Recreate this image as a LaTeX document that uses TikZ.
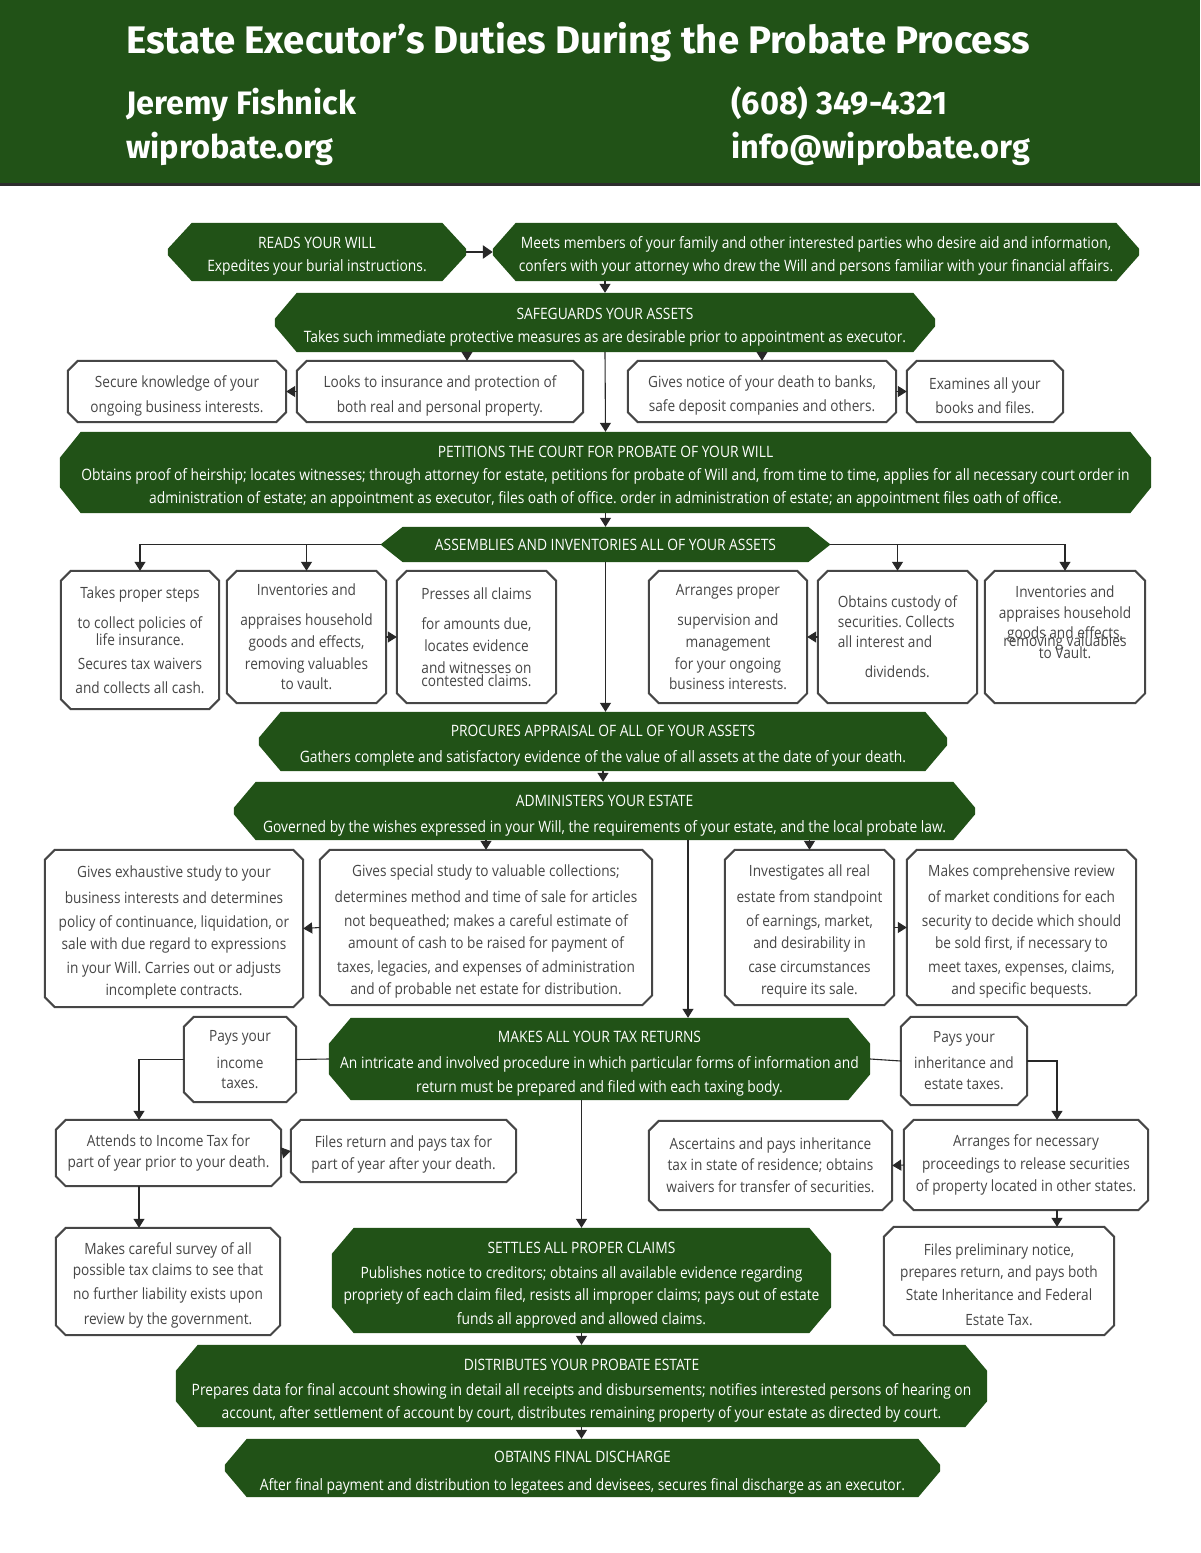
\documentclass[tikz,border=0pt]{standalone}
\usepackage{fontspec}
\setmainfont{Open Sans}[FakeStretch=0.88]
\newfontfamily\hdfont{Fira Sans}
\usetikzlibrary{arrows.meta}
\pgfdeclarelayer{background}
\pgfdeclarelayer{canvas}
\pgfsetlayers{canvas,background,main}
\definecolor{gr}{RGB}{33,82,23}
\definecolor{bd}{RGB}{70,70,70}
\definecolor{tx}{RGB}{70,70,70}
\definecolor{ln}{RGB}{40,40,40}
\definecolor{hdline}{RGB}{45,45,45}
\frenchspacing
\tikzset{
 gbox/.style={rectangle, inner sep=0pt, text=white, align=center, font=\fontsize{15.7}{23}\selectfont},
 wbox/.style={rectangle, inner sep=0pt, text=tx, align=center, font=\fontsize{15.5}{23}\selectfont},
 conn/.style={draw=ln, line width=1.1pt},
 arr/.style={conn, -{Triangle[length=9pt,width=11pt]}},
 hd/.style={text=white, anchor=base west, inner sep=0pt},
}
\newcommand\dn{\mbox{}\\[-3pt]}
\newcommand\bx[7]{\node[#1, minimum width={(#4-#2)*1pt}, minimum height={(#5-#3)*1pt}] (#6) at ({(#2+#4)/2},{(#3+#5)/2}) {#7};}
\newcommand\gshape[3]{\fill[gr] ([xshift=#2]#1.north west) -- ([xshift=-#2]#1.north east) -- ([yshift=-#3]#1.north east) -- ([yshift=#3]#1.south east) -- ([xshift=-#2]#1.south east) -- ([xshift=#2]#1.south west) -- ([yshift=#3]#1.south west) -- ([yshift=-#3]#1.north west) -- cycle;}
\newcommand\wshape[1]{\draw[draw=bd, line width=2pt, fill=white] ([xshift=10pt]#1.north west) -- ([xshift=-10pt]#1.north east) -- ([yshift=-10pt]#1.north east) -- ([yshift=10pt]#1.south east) -- ([xshift=-10pt]#1.south east) -- ([xshift=10pt]#1.south west) -- ([yshift=10pt]#1.south west) -- ([yshift=-10pt]#1.north west) -- cycle;}
\begin{document}
\begin{tikzpicture}[x=1pt,y=-1pt]
\begin{pgfonlayer}{canvas}
\fill[white] (0,0) rectangle (1200,1553);
\end{pgfonlayer}
\useasboundingbox (0,0) rectangle (1200,1553);
% header
\fill[gr] (0,0) rectangle (1200,184);
\draw[line width=2.5pt, hdline] (0,184.5) -- (1200,184.5);
\node[hd, font={\hdfont\bfseries\fontsize{38.4}{42}\selectfont}] (title) at (126,53) {Estate Executor’s Duties During the Probate Process};
\node[hd, font={\hdfont\bfseries\fontsize{32.5}{36}\selectfont}] (name) at (126,114) {Jeremy Fishnick};
\node[hd, font={\hdfont\bfseries\fontsize{32.5}{36}\selectfont}] (web) at (126,158) {wiprobate.org};
\node[hd, font={\hdfont\bfseries\fontsize{32.5}{36}\selectfont}] (phone) at (731,114) {(608) 349-4321};
\node[hd, font={\hdfont\bfseries\fontsize{32.5}{36}\selectfont}] (mail) at (731,158) {info@wiprobate.org};
% boxes
\bx{gbox}{168}{223}{466}{281}{reads}{\dn READS YOUR WILL\\Expedites your burial instructions.}
\bx{gbox}{493}{223}{1139}{281}{meets}{\dn Meets members of your family and other interested parties who desire aid and information,\\confers with your attorney who drew the Will and persons familiar with your financial affairs.}
\bx{gbox}{275}{293}{935}{352}{safe}{\dn SAFEGUARDS YOUR ASSETS\\Takes such immediate protective measures as are desirable prior to appointment as executor.}
\bx{wbox}{68}{361}{286}{422}{secure}{\dn Secure knowledge of your\\[2pt]ongoing business interests.}
\bx{wbox}{297}{361}{583}{422}{looks}{\dn Looks to insurance and protection of\\[2pt]both real and personal property.}
\bx{wbox}{628}{361}{896}{422}{notice}{\dn Gives notice of your death to banks,\\[1pt]safe deposit companies and others.}
\bx{wbox}{907}{361}{1063}{422}{exam}{\dn Examines all your\\[1pt]books and files.}
\bx{gbox}{60}{432}{1151}{513}{petit}{\dn PETITIONS THE COURT FOR PROBATE OF YOUR WILL\\Obtains proof of heirship; locates witnesses; through attorney for estate, petitions for probate of Will and, from time to time, applies for all necessary court order in\\administration of estate; an appointment as executor, files oath of office. order in administration of estate; an appointment files oath of office.}
\bx{gbox}{381}{527}{830}{562}{assem}{ASSEMBLIES AND INVENTORIES ALL OF YOUR ASSETS}
\bx{wbox}{61}{571}{219}{709}{takes}{Takes proper steps\\[7pt]to collect policies of\\[-6pt]life insurance.\\[1pt]Secures tax waivers\\[1pt]and collects all cash.}
\bx{wbox}{227}{571}{386}{703}{inv1}{Inventories and\\[7pt]appraises household\\[-1pt]goods and effects,\\[-1pt]removing valuables\\[-3pt]to vault.}
\bx{wbox}{397}{571}{556}{703}{press}{Presses all claims\\[7pt]for amounts due,\\[-1pt]locates evidence\\[-1pt]and witnesses on\\[-10pt]contested claims.}
\bx{wbox}{649}{571}{807}{703}{arrs}{Arranges proper\\[7pt]supervision and\\[-1pt]management\\[-1pt]for your ongoing\\[-3pt]business interests.}
\bx{wbox,align=left}{818}{571}{977}{703}{obt}{Obtains custody of\\[-3pt]securities. Collects\\[-3pt]all interest and\\[7pt]\hspace*{27pt}dividends.}
\bx{wbox}{985}{571}{1145}{703}{inv2}{Inventories and\\[-2pt]appraises household\\[-3pt]goods and effects,\\[-15pt]removing valuables\\[-11pt]to Vault.\\[7pt]\mbox{}}
\bx{gbox}{259}{712}{947}{771}{procures}{\dn PROCURES APPRAISAL OF ALL OF YOUR ASSETS\\[3pt]Gathers complete and satisfactory evidence of the value of all assets at the date of your death.}
\bx{gbox}{234}{782}{975}{840}{admin}{\dn ADMINISTERS YOUR ESTATE\\[3pt]Governed by the wishes expressed in your Will, the requirements of your estate, and the local probate law.}
\bx{wbox}{45}{850}{303}{1007}{exh}{\dn Gives exhaustive study to your\\[3pt]business interests and determines\\[1pt]policy of continuance, liquidation, or\\[-1pt]sale with due regard to expressions\\[1pt]in your Will. Carries out or adjusts\\[-1pt]incomplete contracts.}
\bx{wbox}{320}{850}{652}{1005}{special}{\dn Gives special study to valuable collections;\\[3pt]determines method and time of sale for articles\\[1pt]not bequeathed; makes a careful estimate of\\[-1pt]amount of cash to be raised for payment of\\[1pt]taxes, legacies, and expenses of administration\\[-1pt]and of probable net estate for distribution.}
\bx{wbox}{725}{850}{894}{1005}{invest}{\dn Investigates all real\\[3pt]estate from standpoint\\[1pt]of earnings, market,\\[-1pt]and desirability in\\[1pt]case circumstances\\[-1pt]require its sale.}
\bx{wbox}{907}{850}{1136}{1005}{makescomp}{\dn Makes comprehensive review\\[3pt]of market conditions for each\\[1pt]security to decide which should\\[-1pt]be sold first, if necessary to\\[1pt]meet taxes, expenses, claims,\\[-1pt]and specific bequests.}
\bx{gbox}{329}{1018}{870}{1100}{tax}{\dn MAKES ALL YOUR TAX RETURNS\\[3pt]An intricate and involved procedure in which particular forms of information and\\[1pt]return must be prepared and filed with each taxing body.}
\bx{wbox}{184}{1017}{296}{1102}{payinc}{Pays your\\[4pt]income\\[-3pt]taxes.}
\bx{wbox}{901}{1017}{1027}{1105}{payinh}{Pays your\\[3pt]inheritance and\\[-2pt]estate taxes.}
\bx{wbox}{56}{1120}{281}{1186}{attends}{Attends to Income Tax for\\[-2pt]part of year prior to your death.}
\bx{wbox}{291}{1120}{516}{1182}{filesret}{\mbox{}\\[-4pt]Files return and pays tax for\\[-1pt]part of year after your death.}
\bx{wbox}{649}{1121}{892}{1210}{ascert}{Ascertains and pays inheritance\\[-2pt]tax in state of residence; obtains\\[-1pt]waivers for transfer of securities.}
\bx{wbox}{904}{1120}{1148}{1210}{arrnec}{Arranges for necessary\\[0pt]proceedings to release securities\\[-1pt]of property located in other states.}
\bx{wbox}{56}{1228}{280}{1335}{careful}{\dn Makes careful survey of all\\[-2pt]possible tax claims to see that\\[1pt]no further liability exists upon\\[2pt]review by the government.}
\bx{gbox}{332}{1228}{831}{1333}{settles}{\dn SETTLES ALL PROPER CLAIMS\\[2pt]Publishes notice to creditors; obtains all available evidence regarding\\[-1pt]propriety of each claim filed, resists all improper claims; pays out of estate\\[1pt]funds all approved and allowed claims.}
\bx{wbox}{884}{1227}{1114}{1335}{prelim}{\dn Files preliminary notice,\\[-1pt]prepares return, and pays both\\[0pt]State Inheritance and Federal\\[2pt]Estate Tax.}
\bx{gbox}{176}{1345}{987}{1427}{dist}{\dn DISTRIBUTES YOUR PROBATE ESTATE\\[2pt]Prepares data for final account showing in detail all receipts and disbursements; notifies interested persons of hearing on\\account, after settlement of account by court, distributes remaining property of your estate as directed by court.}
\bx{gbox}{225}{1439}{940}{1497}{final}{\dn OBTAINS FINAL DISCHARGE\\[5pt]After final payment and distribution to legatees and devisees, secures final discharge as an executor.}
% shapes behind
\begin{pgfonlayer}{background}
\foreach \n/\dx/\dy in {reads/24/26, meets/23/26, safe/22/26, petit/21/26, assem/22/17.5, procures/22/26, admin/22/26, tax/22/26, settles/22/26, dist/22/26, final/22/26} {\gshape{\n}{\dx pt}{\dy pt}}
\foreach \n in {secure, looks, notice, exam, takes, inv1, press, arrs, obt, inv2, exh, special, invest, makescomp, payinc, payinh, attends, filesret, ascert, arrnec, careful, prelim} {\wshape{\n}}
\end{pgfonlayer}
% helper coordinates
\coordinate (cA) at (467,0);
\coordinate (cB) at (688,0);
\coordinate (cC) at (139,0);
\coordinate (cD) at (1057,0);
% connectors
\draw[conn, line width=2.6pt, -{Triangle[length=10pt,width=13pt]}] (reads.east) -- (meets.west);
\draw[arr] (meets.south -| safe.north) -- (safe.north);
\draw[arr] (safe.south -| cA) -- (looks.north -| cA);
\draw[arr] (safe.south -| notice.north) -- (notice.north);
\draw[arr] (safe.south) -- (petit.north);
\draw[arr] (looks.west) -- (secure.east);
\draw[arr] (notice.east) -- (exam.west);
\draw[arr] (petit.south) -- (assem.north);
\draw[arr] (assem.west) -| (takes.north);
\draw[arr] (assem.west) -| (inv1.north);
\draw[arr] (assem.east) -| (obt.north);
\draw[arr] (assem.east) -| (inv2.north);
\draw[arr] (inv1.east) -- (press.west);
\draw[arr] (obt.west) -- (arrs.east);
\draw[arr] (assem.south) -- (assem.south |- procures.north);
\draw[arr] (procures.south) -- (procures.south |- admin.north);
\draw[arr] (admin.south -| special.north) -- (special.north);
\draw[arr] (admin.south -| invest.north) -- (invest.north);
\draw[arr] (admin.south -| cB) -- (tax.north -| cB);
\draw[arr] (special.west) -- (exh.east);
\draw[arr] (invest.east) -- (makescomp.west);
\draw[conn] (payinc.east) -- (tax.west);
\draw[conn] (tax.east) -- (payinh.west);
\draw[arr] (payinc.west) -| (attends.north -| cC);
\draw[arr] (payinh.east) -| (arrnec.north -| cD);
\draw[arr] (attends.east) -- (filesret.west);
\draw[arr] (arrnec.west) -- (ascert.east);
\draw[arr] (tax.south -| settles.north) -- (settles.north);
\draw[arr] (attends.south -| cC) -- (careful.north -| cC);
\draw[arr] (arrnec.south -| cD) -- (prelim.north -| cD);
\draw[arr] (settles.south) -- (settles.south |- dist.north);
\draw[arr] (dist.south) -- (dist.south |- final.north);
\end{tikzpicture}
\end{document}
